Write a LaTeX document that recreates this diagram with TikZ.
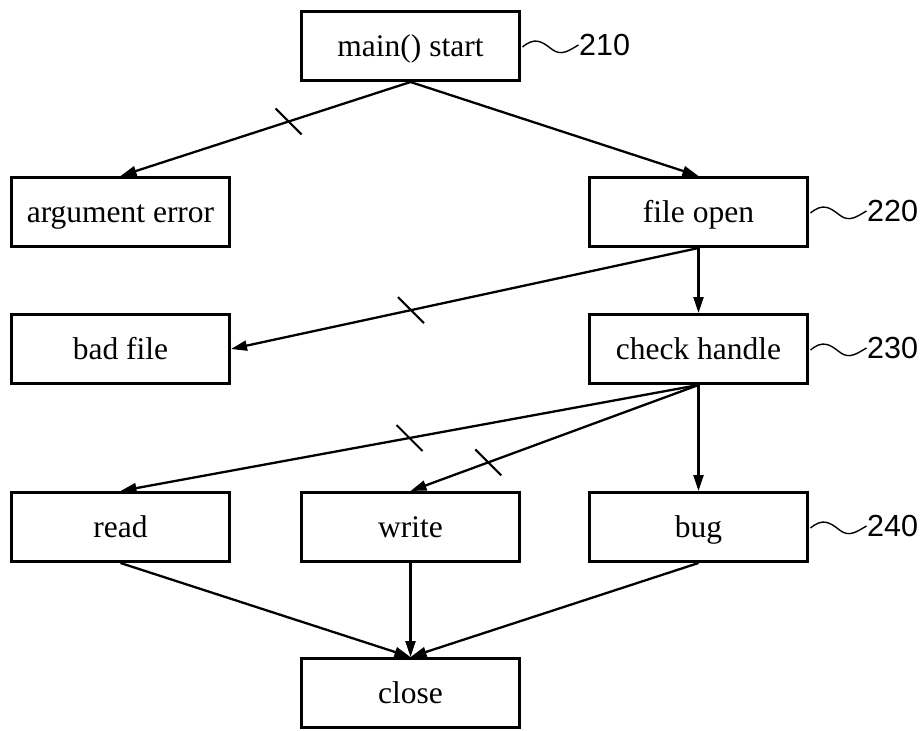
\documentclass[tikz,border=0pt]{standalone}
\usepackage{fontspec}
\setmainfont{Liberation Serif}
\newfontfamily\refnumfont{Liberation Sans}
\usetikzlibrary{arrows.meta}

\tikzset{
  stepbox/.style={draw, line width=3pt, minimum width=218pt, minimum height=69pt,
    inner sep=0pt, text height=24pt, text depth=3pt,
    font=\fontsize{31.5}{36}\selectfont},
  flow/.style={line width=2.3pt, -{Triangle[length=16pt,width=10pt]}},
  slash/.style={line width=2.1pt},
  leader/.style={line width=1.4pt},
  refnum/.style={anchor=west, inner sep=0pt, font=\refnumfont\fontsize{30.5}{34}\selectfont}
}

\begin{document}
\begin{tikzpicture}[x=1pt, y=-1pt]
  \useasboundingbox (0,0) rectangle (924,731);

  % process boxes
  \node[stepbox] (start) at (410.5,46)  {main() start};
  \node[stepbox] (argerr) at (120.5,212) {argument error};
  \node[stepbox] (fopen) at (698.5,212) {file open};
  \node[stepbox] (bad)   at (120.5,349) {bad file};
  \node[stepbox] (check) at (698.5,349) {check handle};
  \node[stepbox] (rd)    at (120.5,527) {read};
  \node[stepbox] (wr)    at (410.5,527) {write};
  \node[stepbox] (bug)   at (698.5,527) {bug};
  \node[stepbox] (close) at (410.5,693) {close};

  % connectors
  \draw[flow] (start.south) -- coordinate[pos=0.42] (t1) (argerr.north);
  \draw[flow] (start.south) -- (fopen.north);
  \draw[flow] (fopen.south) -- coordinate[pos=0.615] (t2) (bad.east);
  \draw[flow] (fopen.south) -- (check.north);
  \draw[flow] (check.south) -- coordinate[pos=0.5] (t3) (rd.north);
  \draw[flow] (check.south) -- coordinate[pos=0.73] (t4) (wr.north);
  \draw[flow] (check.south) -- (bug.north);
  \draw[flow] (rd.south) -- (close.north);
  \draw[flow] (wr.south) -- (close.north);
  \draw[flow] (bug.south) -- (close.north);

  % break marks on the error paths
  \foreach \t in {t1,t2,t3,t4}
    \draw[slash] (\t) ++(-13,-13) -- ++(26,26);

  % reference numerals with wavy leaders
  \foreach \b/\num in {start/210, fopen/220, check/230, bug/240} {
    \draw[leader] ([xshift=1.5pt,yshift=-1pt]\b.east)
      .. controls +(12,-10) and +(-10,-8) .. +(29,2)
      .. controls +(10,8) and +(-9,5) .. +(56,-2)
      node[refnum] (n\num) {\num};
  }
\end{tikzpicture}
\end{document}
